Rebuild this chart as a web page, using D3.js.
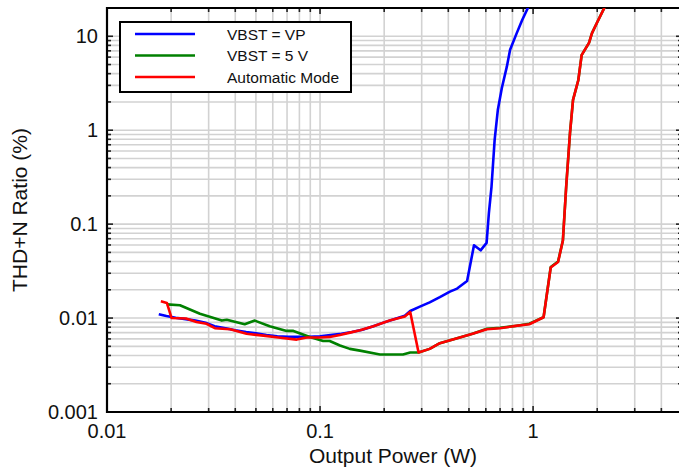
<!DOCTYPE html>
<html><head><meta charset="utf-8">
<script src="https://cdn.jsdelivr.net/npm/d3@7"></script>
<style>body{margin:0;background:#fff}svg{display:block}text{font-family:"Liberation Sans",Arial,sans-serif;fill:#111}</style>
</head><body><svg id="c" width="679" height="472"></svg>
<script>
const seriesNames = ["VBST = VP", "VBST = 5 V", "Automatic Mode"];
const seriesColors = ["#0000ff", "#008000", "#ff0000"];
const xTickLabels = ["0.01", "0.1", "1"];
const yTickLabels = ["0.001", "0.01", "0.1", "1", "10"];

const blueX = [0.0175,0.019,0.021,0.023,0.026,0.029,0.032,0.036,0.040,0.045,0.050,0.056,0.063,0.071,0.079,0.089,0.1,0.112,0.126,0.141,0.158,0.178,0.2,0.224,0.25,0.265,0.296,0.327,0.365,0.407,0.44,0.49,0.528,0.567,0.605,0.62,0.638,0.66,0.683,0.713,0.753,0.78,0.838,0.89,0.95];
const blueY = [0.011,0.0105,0.0101,0.0098,0.0094,0.0089,0.0082,0.0078,0.0074,0.0071,0.0069,0.0066,0.0064,0.0063,0.0063,0.0063,0.0064,0.0066,0.0068,0.0071,0.0075,0.0082,0.0090,0.0098,0.0106,0.0119,0.0133,0.0147,0.0167,0.0191,0.0206,0.0248,0.0596,0.0526,0.0632,0.13,0.25,0.79,1.64,2.8,4.75,7.2,10.8,15,20.5];

const greenX = [0.0191,0.022,0.0273,0.0346,0.0365,0.0443,0.0494,0.058,0.0697,0.075,0.0896,0.1034,0.111,0.124,0.138,0.154,0.191,0.245,0.265,0.29,0.327,0.365,0.44,0.52,0.607,0.70,0.81,0.96,1.12,1.21,1.31,1.38,1.43,1.49,1.54,1.63,1.69,1.83,1.89,2.0,2.17];
const greenY = [0.0140,0.0137,0.0111,0.0094,0.0096,0.0086,0.0094,0.0082,0.0073,0.0073,0.0063,0.0057,0.0057,0.0051,0.0047,0.0045,0.0041,0.0041,0.0043,0.0043,0.0047,0.0054,0.0061,0.0068,0.0077,0.0079,0.0082,0.0087,0.0102,0.0350,0.0400,0.067,0.25,0.93,2.1,3.4,6.3,8.5,10.8,14.1,20.5];

const redX = [0.0179,0.0191,0.0201,0.0235,0.0263,0.0293,0.0321,0.0378,0.0406,0.0452,0.0542,0.0637,0.0777,0.0867,0.1,0.111,0.124,0.138,0.154,0.178,0.212,0.25,0.265,0.29,0.327,0.365,0.44,0.52,0.607,0.70,0.81,0.96,1.12,1.21,1.31,1.38,1.43,1.49,1.54,1.63,1.69,1.83,1.89,2.0,2.17];
const redY = [0.0151,0.0145,0.0100,0.0099,0.0091,0.0087,0.0078,0.0076,0.0073,0.0068,0.0065,0.0062,0.0059,0.0062,0.0062,0.0063,0.0066,0.0070,0.0074,0.0082,0.0094,0.0104,0.0116,0.0043,0.0047,0.0054,0.0061,0.0068,0.0076,0.0078,0.0082,0.0086,0.0102,0.0345,0.0395,0.067,0.25,0.93,2.1,3.4,6.3,8.5,10.8,14.1,20.5];

const L = 107, R = 682, T = 8, B = 412;
const x = d3.scaleLog().domain([0.01, 5]).range([L, R]);
const y = d3.scaleLog().domain([0.001, 20]).range([B, T]);
const svg = d3.select("#c");

svg.append("defs").append("clipPath").attr("id","clip").append("rect")
  .attr("x", L).attr("y", T).attr("width", R - L).attr("height", B - T);

const xGrid = [], yGrid = [];
[0.01, 0.1, 1].forEach(d => { for (let k = 1; k <= 9; k++) { const v = +(d*k).toPrecision(3); if (v <= 5) xGrid.push(v); } });
[0.001, 0.01, 0.1, 1, 10].forEach(d => { for (let k = 1; k <= 9; k++) { const v = +(d*k).toPrecision(3); if (v <= 20) yGrid.push(v); } });
const g = svg.append("g");
g.selectAll("line.gx").data(xGrid.filter(v => v > 0.01)).join("line")
  .attr("x1", d => x(d)).attr("x2", d => x(d)).attr("y1", T).attr("y2", B)
  .attr("stroke", "#d2d2d2").attr("stroke-width", 1.6);
g.selectAll("line.gy").data(yGrid.filter(v => v > 0.001)).join("line")
  .attr("y1", d => y(d)).attr("y2", d => y(d)).attr("x1", L).attr("x2", R)
  .attr("stroke", "#d2d2d2").attr("stroke-width", 1.6);

const isMajor = v => Math.abs(Math.log10(v) - Math.round(Math.log10(v))) < 1e-6;
const ax = svg.append("g");
function tickLines(vals, scale, orient) {
  vals.forEach(v => {
    const len = isMajor(v) ? 6 : 4;
    const p = scale(v);
    let l;
    if (orient === "left") l = [L, p, L + len, p];
    if (orient === "right") l = [R, p, R - len, p];
    if (orient === "bottom") l = [p, B, p, B - len];
    if (orient === "top") l = [p, T, p, T + len];
    ax.append("line").attr("x1", l[0]).attr("y1", l[1]).attr("x2", l[2]).attr("y2", l[3])
      .attr("stroke", "#222").attr("stroke-width", 1.6);
  });
}
tickLines(yGrid, y, "left"); tickLines(yGrid, y, "right");
tickLines(xGrid, x, "bottom"); tickLines(xGrid, x, "top");
ax.append("line").attr("x1", L).attr("x2", L).attr("y1", T - 1).attr("y2", B + 1).attr("stroke", "#000").attr("stroke-width", 2.2);
ax.append("line").attr("x1", L - 1).attr("x2", R).attr("y1", B).attr("y2", B).attr("stroke", "#000").attr("stroke-width", 2.2);
ax.append("line").attr("x1", L - 1).attr("x2", R).attr("y1", T).attr("y2", T).attr("stroke", "#000").attr("stroke-width", 2.2);
ax.append("line").attr("x1", R).attr("x2", R).attr("y1", T).attr("y2", B).attr("stroke", "#000").attr("stroke-width", 2.2);

const yMajors = [0.001, 0.01, 0.1, 1, 10];
svg.selectAll("text.yl").data(yMajors).join("text")
  .attr("x", 98).attr("y", d => y(d)).attr("dy", "0.36em").attr("text-anchor", "end")
  .style("font-size", "20px").text((d, i) => yTickLabels[i]);
const xMajors = [0.01, 0.1, 1];
svg.selectAll("text.xl").data(xMajors).join("text")
  .attr("x", d => x(d)).attr("y", 438).attr("text-anchor", "middle")
  .style("font-size", "20px").text((d, i) => xTickLabels[i]);

svg.append("text").attr("x", 393).attr("y", 463).attr("text-anchor", "middle")
  .style("font-size", "21px").text("Output Power (W)");
svg.append("text").attr("transform", "translate(27,210) rotate(-90)").attr("text-anchor", "middle")
  .style("font-size", "21px").text("THD+N Ratio (%)");

const line = d3.line().x(d => x(d[0])).y(d => y(d[1]));
const series = [[blueX, blueY], [greenX, greenY], [redX, redY]];
const lg = svg.append("g").attr("clip-path", "url(#clip)");
series.forEach((s, i) => {
  const pts = s[0].map((v, j) => [v, s[1][j]]);
  lg.append("path").datum(pts).attr("d", line).attr("fill", "none")
    .attr("stroke", seriesColors[i]).attr("stroke-width", 2.6).attr("stroke-linejoin", "round");
});

const leg = svg.append("g");
leg.append("rect").attr("x", 120).attr("y", 22).attr("width", 231).attr("height", 70)
  .attr("fill", "#fff").attr("stroke", "#000").attr("stroke-width", 2);
const legY = [34, 55.5, 77];
seriesNames.forEach((n, i) => {
  leg.append("line").attr("x1", 135).attr("x2", 195).attr("y1", legY[i]).attr("y2", legY[i])
    .attr("stroke", seriesColors[i]).attr("stroke-width", 2.6);
  leg.append("text").attr("x", 227).attr("y", legY[i]).attr("dy", "0.36em")
    .style("font-size", "15.5px").text(n);
});
</script></body></html>
